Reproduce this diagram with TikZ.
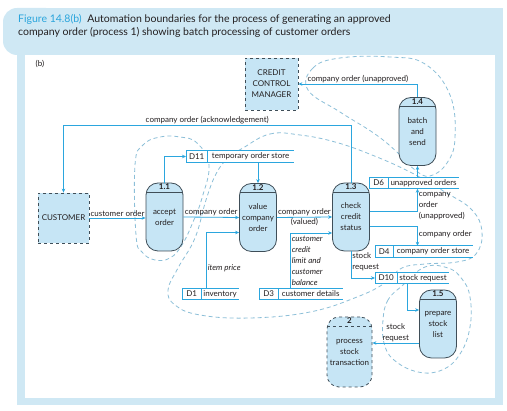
\documentclass[tikz,border=0pt]{standalone}
\usepackage{fontspec}
\setmainfont{Lato}
\usetikzlibrary{arrows.meta,positioning}
\definecolor{frame}{HTML}{CFE8F4}
\definecolor{figblue}{HTML}{2AA5DC}
\definecolor{flowline}{HTML}{2BA6DE}
\definecolor{procfill}{HTML}{C6E5F5}
\definecolor{outline}{HTML}{3F4E58}
\definecolor{bndline}{HTML}{8CBFD8}
\definecolor{ink}{HTML}{231F20}

\begin{document}
\begin{tikzpicture}[x=1pt,y=-1pt,
  font=\fontsize{8}{11}\selectfont, text=ink,
  proc/.style={draw=outline,fill=procfill,line width=.8pt,rounded corners=12pt,
    minimum width=37pt,minimum height=68pt,align=center,inner sep=1pt,
    label={[anchor=north,inner sep=1.3pt,font=\fontsize{8}{9}\selectfont\bfseries]north:#1},
    path picture={\draw[outline,line width=.8pt] ([yshift=-9pt]path picture bounding box.north west) -- ([yshift=-9pt]path picture bounding box.north east);}},
  ext/.style={draw=outline,dashed,fill=procfill,line width=.8pt,align=center,
    minimum width=51pt,minimum height=50pt,inner sep=1pt},
  storeid/.style={fill=white,minimum width=#1,minimum height=11pt,inner sep=0pt,anchor=west},
  storetxt/.style={fill=white,minimum width=#1,minimum height=11pt,inner sep=0pt},
  storeline/.style={draw=flowline,line width=.7pt},
  flow/.style={draw=flowline,line width=.8pt,-{Stealth[length=4pt,width=3.5pt]}},
  lab/.style={inner sep=1pt},
  note/.style={inner sep=1pt,align=left,font=\fontsize{8}{11}\selectfont\itshape},
  boundary/.style={draw=bndline,line width=.8pt,dash pattern=on 4pt off 3pt}
]
\useasboundingbox (0,0) rectangle (507,411);
% frame and caption
\fill[frame,rounded corners=14pt] (3,8) rectangle (60,55);
\fill[frame] (30,8) rectangle (503,55);
\fill[frame] (17,40) rectangle (503,405);
\fill[white] (25,55) rectangle (495,398);
\node[anchor=north west,align=left,inner sep=0pt,font=\fontsize{10.5}{13}\selectfont] (cap) at (18,14.5)
  {\textcolor{figblue}{Figure 14.8(b)}\hspace{3pt} Automation boundaries for the process of generating an approved\\
   company order (process 1) showing batch processing of customer orders};
\node (tag) at (40,64) {(b)};

% automation boundaries
\draw[boundary] plot[smooth cycle,tension=.7] coordinates {(136,235) (135,165) (143,145) (160,137) (180,137) (197,143) (209,165) (202,198) (193,222) (182,245) (170,258) (155,260) (142,252)};
\draw[boundary] plot[smooth cycle,tension=.7] coordinates {(243,148) (270,134) (300,135) (335,142) (372,155) (410,172) (445,192) (472,210) (482,232) (476,254) (457,262) (425,264) (402,268) (385,283) (357,297) (310,312) (250,318) (200,315) (175,305) (168,290) (178,268) (195,238) (206,200) (216,174) (228,158)};
\draw[boundary] plot[smooth cycle,tension=.7] coordinates {(308,90) (313,68) (340,58) (390,57) (425,64) (450,95) (455,138) (447,163) (430,176) (415,170) (398,153) (375,134) (340,112)};
\draw[boundary] plot[smooth cycle,tension=.7] coordinates {(403,285) (388,300) (383,320) (384,343) (394,360) (418,372) (442,370) (460,354) (470,327) (470,297) (462,279) (448,268) (425,267)};

% external entities
\node[ext,minimum width=53pt,minimum height=52pt] (ccm) at (271.5,84) {CREDIT\\CONTROL\\MANAGER};
\node[ext] (cust) at (63.5,218) {CUSTOMER};

% processes
\node[proc=1.1] (p11) at (164.5,217) {accept\\order};
\node[proc=1.2] (p12) at (258,217.5) {value\\company\\order};
\node[proc=1.3] (p13) at (351,217) {check\\credit\\status};
\node[proc=1.4] (p14) at (417.5,131.5) {batch\\and\\send};
\node[proc=1.5] (p15) at (438,324) {prepare\\stock\\list};
\node[proc=2,dashed,minimum width=45pt,minimum height=70pt] (p2) at (349.5,352) {process\\stock\\transaction};

% data stores
\node[storeid=21pt] (d11) at (186,156.5) {D11};
\node[storetxt=86pt,right=0pt of d11] (d11-t) {temporary order store};
\node[storeid=19pt] (d1) at (182,294) {D1};
\node[storetxt=37pt,right=0pt of d1] (d1-t) {inventory};
\node[storeid=19pt] (d3) at (259,294) {D3};
\node[storetxt=64pt,right=0pt of d3] (d3-t) {customer details};
\node[storeid=19pt] (d6) at (369,183) {D6};
\node[storetxt=70pt,right=0pt of d6] (d6-t) {unapproved orders};
\node[storeid=18pt] (d4) at (375,251.5) {D4};
\node[storetxt=79pt,right=0pt of d4] (d4-t) {company order store};
\node[storeid=22pt] (d10) at (375,278) {D10};
\node[storetxt=51pt,right=0pt of d10] (d10-t) {stock request};
\foreach \s in {d1,d3,d4,d6,d10,d11}
  \draw[storeline] (\s-t.north east) -- (\s.north west) -- (\s.south west) -- (\s-t.south east)
    (\s.north east) -- (\s.south east);

% data flows
\draw[flow] (cust.east) -- node[above,lab]{customer order} (cust.east -| p11.west);
\draw[flow] (p11.east) -- node[above,lab]{company order} (p12.west);
\draw[flow] (p12.east) -- node[above,lab]{company order} node[below,lab]{(valued)} (p13.west);
\draw[flow] (p11.north) |- (d11.west);
\draw[flow] (d11-t.south -| p12.north) -- (p12.north);
\draw[flow] ([xshift=5pt]d1-t.north west) |- node[pos=0.18,right,note]{item price} ([yshift=-15pt]p12.west);
\draw[flow] ([xshift=12pt]d3-t.north west) |- node[pos=0.245,right,note]{customer\\credit\\limit and\\customer\\balance} ([yshift=-16pt]p13.west);
\draw[flow] (p13.north) -- ++(0,-57) -| node[pos=0.25,above,lab]{company order (acknowledgement)} (cust.north);
\draw[flow] ([yshift=6pt]p13.east) -| node[pos=0.6,right,lab,align=left]{company\\order\\(unapproved)} (d6-t.south -| p14.south);
\draw[flow] (d6-t.north -| p14.south) -- (p14.south);
\draw[flow] (p14.north) |- node[pos=0.75,above,lab]{company order (unapproved)} (ccm.east);
\draw[flow] ([yshift=-9pt]p13.east) -| node[pos=0.72,right,lab]{company order} (d4-t.north -| p14.south);
\draw[flow] (p13.south) |- node[pos=0.2,right,lab,align=left]{stock\\request} (d10.west);
\draw[flow] ([xshift=10pt]d10-t.south west) |- ([yshift=14pt]p15.west);
\draw[flow] ([yshift=-19pt]p15.west) -- node[above,lab,align=center]{stock\\request} ([yshift=-19pt]p15.west -| p2.east);
\end{tikzpicture}
\end{document}
